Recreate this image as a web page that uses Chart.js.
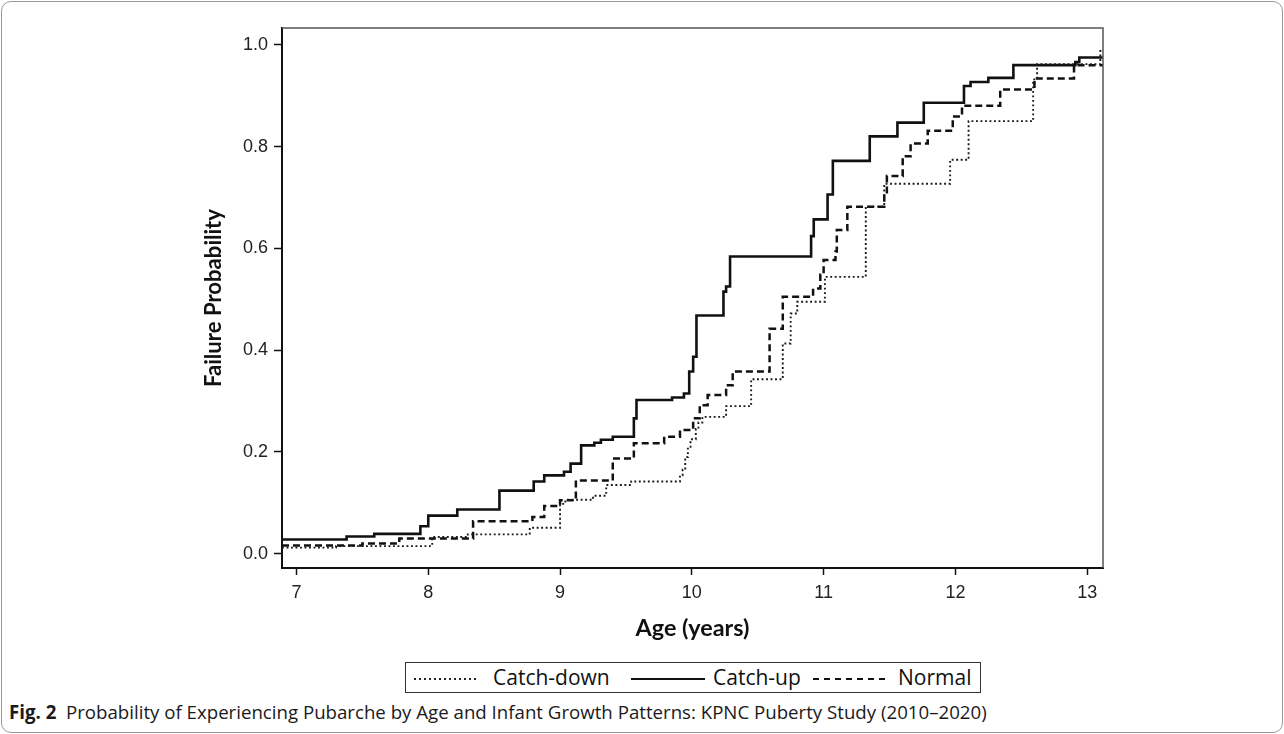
<!DOCTYPE html>
<html lang="en">
<head>
  <meta charset="UTF-8">
  <title>Probability of Experiencing Pubarche</title>
  <style>
    body {
      margin: 0;
      background-color: #fff;
      width: 1284px;
      height: 734px;
      position: relative;
      overflow: hidden;
    }
    .frame {
      position: absolute;
      left: 1px;
      top: 1px;
      width: 1280px;
      height: 730px;
      border: 1px solid #9a9a9a;
      border-radius: 10px;
    }
    #km-chart {
      position: absolute;
      left: 0;
      top: 0;
    }
    .legend {
      position: absolute;
      left: 405px;
      top: 662px;
      width: 574px;
      height: 29px;
      border: 1.5px solid #333;
      font-family: "Open Sans", sans-serif;
      font-size: 21px;
      color: #111;
    }
    .legend span {
      position: absolute;
      top: -1px;
      line-height: 30px;
      white-space: nowrap;
    }
    .legend i {
      position: absolute;
      top: 15px;
      display: block;
    }
    .caption {
      position: absolute;
      left: 9px;
      top: 700px;
      line-height: 24px;
      font-family: "Open Sans", sans-serif;
      font-size: 17px;
      color: #1a1a1a;
      white-space: nowrap;
    }
  </style>
</head>
<body>
  <div class="frame"></div>
  <canvas id="km-chart" width="1284" height="650"></canvas>

  <div class="legend">
    <i style="left: 8px; width: 64px; height: 2px; background: repeating-linear-gradient(to right, #222 0 1.8px, transparent 1.8px 5px);"></i>
    <span style="left: 87px;">Catch-down</span>
    <i style="left: 225px; width: 74px; height: 2px; background: #111;"></i>
    <span style="left: 307px;">Catch-up</span>
    <i style="left: 407px; width: 76px; height: 2px; background: repeating-linear-gradient(to right, #111 0 6px, transparent 6px 11px);"></i>
    <span style="left: 492px;">Normal</span>
  </div>

  <div class="caption"><b>Fig. 2</b>&nbsp; Probability of Experiencing Pubarche by Age and Infant Growth Patterns: KPNC Puberty Study (2010–2020)</div>

  <script src="https://cdn.jsdelivr.net/npm/chart.js"></script>
  <script>
    // Step values (age in years, failure probability)
    const catchDownAge = [6.89, 7.30, 8.03, 8.30, 8.77, 9.00, 9.04, 9.25, 9.35, 9.54, 9.91, 9.93, 9.95, 9.97, 9.99, 10.03, 10.05, 10.08, 10.26, 10.45, 10.69, 10.75, 10.80, 11.01, 11.32, 11.46, 11.96, 12.10, 12.59, 12.62, 13.10, 13.12];
    const catchDownProb = [0.012, 0.015, 0.033, 0.038, 0.051, 0.098, 0.106, 0.114, 0.135, 0.142, 0.154, 0.165, 0.19, 0.21, 0.225, 0.245, 0.258, 0.269, 0.29, 0.343, 0.413, 0.472, 0.495, 0.544, 0.682, 0.727, 0.774, 0.85, 0.932, 0.962, 0.99, 0.99];

    const catchUpAge = [6.89, 7.38, 7.59, 7.94, 8.00, 8.22, 8.54, 8.80, 8.88, 9.03, 9.08, 9.16, 9.26, 9.31, 9.40, 9.56, 9.58, 9.85, 9.94, 9.98, 10.01, 10.035, 10.24, 10.26, 10.29, 10.905, 10.925, 11.03, 11.07, 11.35, 11.56, 11.76, 12.065, 12.115, 12.25, 12.44, 12.91, 12.94, 13.12];
    const catchUpProb = [0.028, 0.034, 0.039, 0.054, 0.075, 0.087, 0.124, 0.142, 0.154, 0.161, 0.177, 0.213, 0.218, 0.224, 0.230, 0.266, 0.302, 0.307, 0.315, 0.358, 0.387, 0.468, 0.515, 0.525, 0.584, 0.624, 0.657, 0.706, 0.772, 0.82, 0.847, 0.886, 0.919, 0.927, 0.935, 0.96, 0.966, 0.975, 0.975];

    const normalAge = [6.89, 7.50, 7.78, 8.34, 8.79, 8.88, 9.00, 9.12, 9.40, 9.56, 9.79, 9.91, 10.01, 10.06, 10.12, 10.26, 10.31, 10.59, 10.69, 10.92, 10.975, 11.00, 11.09, 11.10, 11.18, 11.46, 11.48, 11.60, 11.66, 11.79, 11.98, 12.05, 12.34, 12.60, 12.90, 13.12];
    const normalProb = [0.016, 0.02, 0.03, 0.064, 0.072, 0.094, 0.105, 0.144, 0.187, 0.217, 0.230, 0.243, 0.266, 0.292, 0.312, 0.331, 0.358, 0.442, 0.505, 0.521, 0.548, 0.577, 0.594, 0.636, 0.682, 0.706, 0.742, 0.781, 0.806, 0.831, 0.859, 0.88, 0.912, 0.934, 0.96, 0.96];

    const xTicks = [7, 8, 9, 10, 11, 12, 13];
    const yTicks = [0.0, 0.2, 0.4, 0.6, 0.8, 1.0];

    function toPoints(ages, probs) {
      return ages.map((a, i) => ({ x: a, y: probs[i] }));
    }

    // pick a font size so the text comes out at the width measured on the figure
    function fitFontSize(text, weight, family, targetWidth) {
      const c = document.createElement('canvas').getContext('2d');
      c.font = weight + ' 20px ' + family;
      return 20 * targetWidth / c.measureText(text).width;
    }
    const xTitleSize = fitFontSize('Age (years)', 'bold', 'Lato', 114);
    const yTitleSize = fitFontSize('Failure Probability', 'bold', 'Lato', 178);

    // caption stretches from 9px to about 987px
    const caption = document.querySelector('.caption');
    const capWidth = caption.getBoundingClientRect().width;
    caption.style.fontSize = (17 * 978 / capWidth) + 'px';

    // top and right edges of the plot box
    const boxPlugin = {
      id: 'plotBox',
      afterDraw(chart) {
        const { ctx, chartArea: a } = chart;
        ctx.save();
        ctx.strokeStyle = '#555';
        ctx.lineWidth = 1.5;
        ctx.beginPath();
        ctx.moveTo(a.left, a.top);
        ctx.lineTo(a.right, a.top);
        ctx.lineTo(a.right, a.bottom);
        ctx.stroke();
        ctx.restore();
      }
    };

    const ctx = document.getElementById('km-chart').getContext('2d');
    const kmChart = new Chart(ctx, {
      type: 'line',
      data: {
        datasets: [
          {
            label: 'Catch-down',
            data: toPoints(catchDownAge, catchDownProb),
            borderColor: '#1a1a1a',
            borderWidth: 1.9,
            borderDash: [1.9, 2.6],
            stepped: true,
            pointRadius: 0,
            fill: false
          },
          {
            label: 'Normal',
            data: toPoints(normalAge, normalProb),
            borderColor: '#111',
            borderWidth: 2.5,
            borderDash: [7, 4],
            stepped: true,
            pointRadius: 0,
            fill: false
          },
          {
            label: 'Catch-up',
            data: toPoints(catchUpAge, catchUpProb),
            borderColor: '#111',
            borderWidth: 2.6,
            stepped: true,
            pointRadius: 0,
            fill: false
          }
        ]
      },
      options: {
        responsive: false,
        animation: false,
        devicePixelRatio: 1,
        layout: { padding: { left: 190, right: 181, top: 28, bottom: 0 } },
        plugins: {
          legend: { display: false },
          tooltip: { enabled: false }
        },
        scales: {
          x: {
            type: 'linear',
            min: 6.89,
            max: 13.12,
            afterBuildTicks: axis => { axis.ticks = xTicks.map(v => ({ value: v })); },
            afterFit: axis => { axis.height = 82; },
            grid: { drawOnChartArea: false, drawTicks: true, tickLength: 7, tickWidth: 1.5, tickColor: '#111' },
            border: { display: true, color: '#111', width: 2 },
            ticks: {
              font: { family: 'Liberation Sans', size: 18 },
              color: '#222',
              padding: 7,
              maxRotation: 0,
              callback: v => String(v)
            },
            title: {
              display: true,
              text: 'Age (years)',
              font: { family: 'Lato', size: xTitleSize, weight: 'bold' },
              color: '#111',
              padding: { top: 0, bottom: 22 - 0.6 * xTitleSize }
            }
          },
          y: {
            type: 'linear',
            min: -0.028,
            max: 1.033,
            afterBuildTicks: axis => { axis.ticks = yTicks.map(v => ({ value: v })); },
            afterFit: axis => { axis.width = 92; },
            grid: { drawOnChartArea: false, drawTicks: true, tickLength: 8, tickWidth: 1.5, tickColor: '#111' },
            border: { display: true, color: '#111', width: 2 },
            ticks: {
              font: { family: 'Liberation Sans', size: 18 },
              color: '#222',
              padding: 6,
              callback: v => v.toFixed(1)
            },
            title: {
              display: true,
              text: 'Failure Probability',
              font: { family: 'Lato', size: yTitleSize, weight: 'bold' },
              color: '#111',
              padding: { top: 24 - 0.6 * yTitleSize, bottom: 0 }
            }
          }
        }
      },
      plugins: [boxPlugin]
    });
  </script>
</body>
</html>
